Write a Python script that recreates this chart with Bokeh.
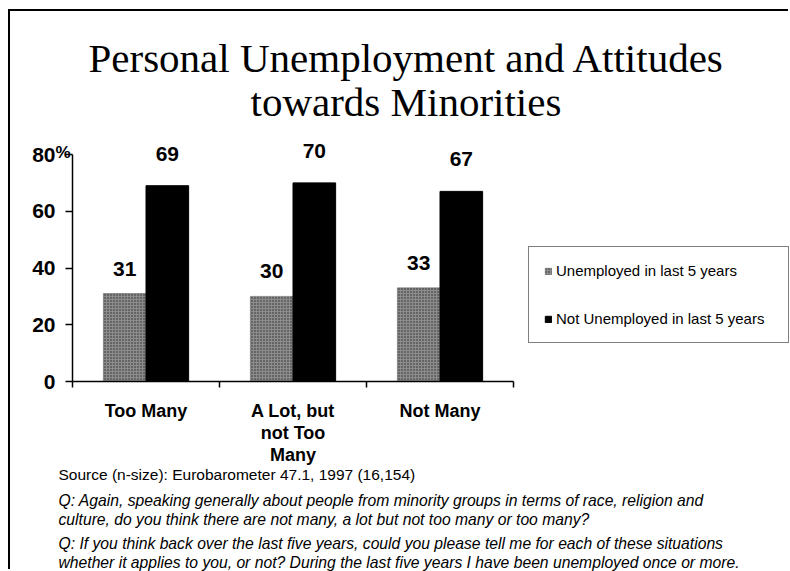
import numpy as np
from bokeh.plotting import figure
from bokeh.models import (Range1d, FixedTicker, ColumnDataSource, LabelSet,
                          Legend, LegendItem, Title)
from bokeh.core.properties import value
from bokeh.embed import file_html
from bokeh.resources import INLINE

# ---------------- data ----------------
title_lines = ["Personal Unemployment and Attitudes", "towards Minorities"]
categories = ["Too Many", "A Lot, but\nnot Too\nMany", "Not Many"]
series_names = ["Unemployed in last 5 years", "Not Unemployed in last 5 years"]
unemployed = [31, 30, 33]
not_unemployed = [69, 70, 67]
y_ticks = [0, 20, 40, 60, 80]
footer_source = "Source (n-size): Eurobarometer 47.1, 1997 (16,154)"
footer_questions = [
    "Q: Again, speaking generally about people from minority groups in terms of race, religion and",
    "culture, do you think there are not many, a lot but not too many or too many?",
    "Q: If you think back over the last five years, could you please tell me for each of these situations",
    "whether it applies to you, or not? During the last five years I have been unemployed once or more.",
]

FONT = "Liberation Sans"
SERIF = "Liberation Serif"

OX, OY = 10, 11                      # canvas origin on the page
W, H = 780, 560
AX_L, AX_R = 72, 513                 # page x of the category axis ends
AX_TOP, AX_BOT = 154, 381            # page y of 80 and 0
FRAME_TOP = 130                      # frame reaches a bit above 80 (room for value labels)
FL, FT = AX_L - OX, FRAME_TOP - OY
FH = AX_BOT - FRAME_TOP
FW = W - FL

n = len(categories)
x_end = n * FW / (AX_R - AX_L)
y_end = y_ticks[-1] * FH / (AX_BOT - AX_TOP)
centers = np.arange(n) + 0.5
bw = 0.29
src = ColumnDataSource(dict(
    xu=centers - bw / 2, xn=centers + bw / 2,
    u=unemployed, nu=not_unemployed,
    lu=[str(v) for v in unemployed], ln=[str(v) for v in not_unemployed],
))

p = figure(width=W, height=H, output_backend="svg", toolbar_location=None,
           x_range=Range1d(0, x_end), y_range=Range1d(0, y_end),
           min_border_left=FL, min_border_right=0,
           min_border_top=FT, min_border_bottom=H - FT - FH, title=None)
p.styles = {"margin-left": f"{OX}px", "margin-top": f"{OY}px",
            "box-shadow": "-2px -2px 0 0 #000"}
p.outline_line_color = None
p.xgrid.visible = False
p.ygrid.visible = False

r1 = p.vbar(x="xu", top="u", width=bw, source=src, fill_color="#8c8c8c",
            line_color="#555555", line_width=0.5,
            hatch_pattern="dot", hatch_color="#2a2a2a", hatch_scale=3, hatch_weight=1)
r2 = p.vbar(x="xn", top="nu", width=bw, source=src, fill_color="#000000",
            line_color="#000000")

lab_style = dict(text_font=value(FONT), text_font_style="bold", text_font_size="21px",
                 text_align="center", text_baseline="alphabetic", text_color="black")
p.add_layout(LabelSet(x="xu", y="u", text="lu", source=src, y_offset=18, **lab_style))
p.add_layout(LabelSet(x="xn", y="nu", text="ln", source=src, y_offset=25, **lab_style))

# y axis (drawn only from 0 to 80)
ya = p.yaxis[0]
ya.bounds = (y_ticks[0], y_ticks[-1])
ya.ticker = FixedTicker(ticks=y_ticks)
ya.major_label_text_font = FONT
ya.major_label_text_font_style = "bold"
ya.major_label_text_font_size = "21px"
ya.major_label_text_color = "black"
ya.major_tick_out = 7
ya.major_tick_in = 0
ya.minor_tick_out = 0
ya.minor_tick_in = 0
ya.axis_line_width = 1.5
ya.major_tick_line_width = 1.5
ya.major_label_standoff = 10

# x axis (limited to the categories)
xa = p.xaxis[0]
xa.bounds = (0, n)
xa.ticker = FixedTicker(ticks=list(centers), minor_ticks=list(range(n + 1)))
xa.major_label_overrides = {float(c): cat for c, cat in zip(centers, categories)}
xa.major_tick_line_color = None
xa.major_tick_out = 0
xa.major_tick_in = 0
xa.minor_tick_out = 6
xa.minor_tick_in = 0
xa.minor_tick_line_color = "black"
xa.minor_tick_line_width = 1.5
xa.axis_line_width = 1.5
xa.major_label_text_font = FONT
xa.major_label_text_font_style = "bold"
xa.major_label_text_font_size = "18px"
xa.major_label_text_line_height = 1.12
xa.major_label_text_color = "black"
xa.major_label_standoff = 13

# legend inside the (wide) frame, right of the bars
legend = Legend(items=[LegendItem(label=series_names[0], renderers=[r1]),
                       LegendItem(label=series_names[1], renderers=[r2])],
                location=(528 - AX_L, AX_BOT - 343), orientation="vertical",
                border_line_color="black", border_line_width=1,
                background_fill_color="white", background_fill_alpha=1,
                padding=15, spacing=31, label_height=17, label_width=217,
                glyph_height=8, glyph_width=8,
                label_standoff=4, label_text_font=FONT, label_text_font_size="15px",
                label_text_color="black", margin=0)
p.add_layout(legend, "center")


def spacer(px, side):
    p.add_layout(Title(text=" ", text_font_size="1px", standoff=px), side)


# percent sign next to 80 (closest title above the frame, pulled down beside "80")
p.add_layout(Title(text="%", align="left", offset=-17, standoff=-62,
                   text_font=FONT, text_font_style="bold", text_font_size="17px",
                   text_color="black"), "above")
spacer(5, "above")
# title (two lines), line 2 first so that line 1 lies above it
title_size = 41
for txt, off in zip(reversed(title_lines), [178, 16]):
    p.add_layout(Title(text=txt, align="left", offset=off, standoff=-4,
                       text_font=SERIF, text_font_style="normal",
                       text_font_size=f"{title_size}px", text_color="black"), "above")

# footer
p.add_layout(Title(text=footer_source, align="left", offset=-14, standoff=-10,
                   text_font=FONT, text_font_style="normal", text_font_size="15.5px",
                   text_color="black"), "below")
spacer(9, "below")
for i, txt in enumerate(footer_questions):
    if i == 2:
        spacer(2, "below")
    p.add_layout(Title(text=txt, align="left", offset=-14, standoff=0,
                       text_font=FONT, text_font_style="italic", text_font_size="15.7px",
                       text_color="black"), "below")

open("out.html", "w").write(file_html(p, INLINE))
